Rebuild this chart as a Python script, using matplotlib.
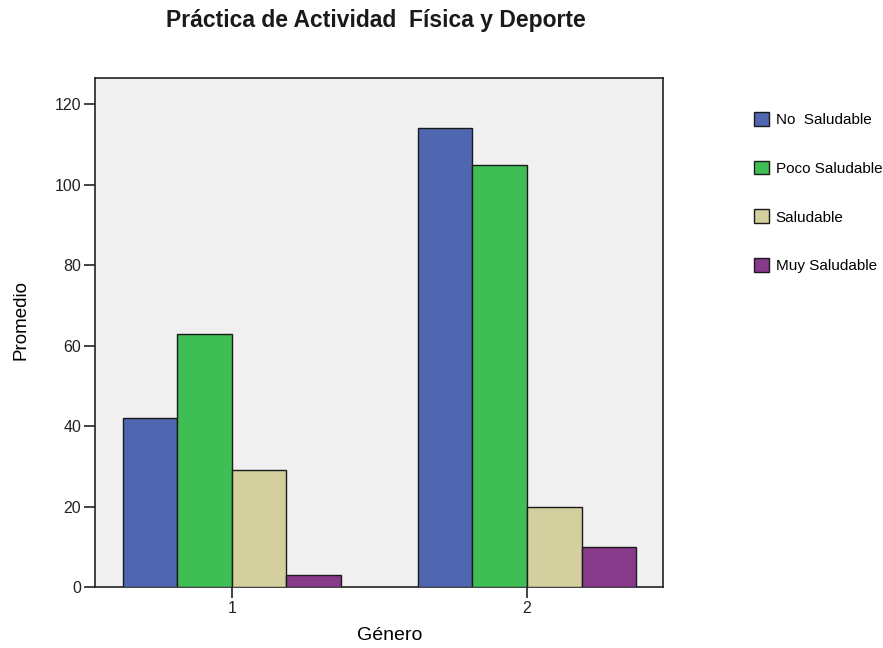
import matplotlib
matplotlib.use("Agg")
import matplotlib.pyplot as plt
import numpy as np

plt.rcParams['font.family'] = ['Liberation Sans', 'DejaVu Sans']

groups = ["1", "2"]
categories = ["No  Saludable", "Poco Saludable", "Saludable", "Muy Saludable"]
values = {
    "No  Saludable": [42, 114],
    "Poco Saludable": [63, 105],
    "Saludable": [29, 20],
    "Muy Saludable": [3, 10],
}
colors = ["#4F66B0", "#40BE56", "#D3CF9F", "#873A8A"]

fig = plt.figure(figsize=(8.83, 6.48), dpi=100)
ax = fig.add_axes([95 / 883, 1 - 587 / 648, (663 - 95) / 883, (587 - 78) / 648])
ax.set_facecolor("#F0F0F0")

x = np.arange(1, len(groups) + 1)
w = 0.185
for i, cat in enumerate(categories):
    ax.bar(x + (i - 1.5) * w, values[cat], width=w, color=colors[i],
           edgecolor="#1a1a1a", linewidth=1.0, label=cat, zorder=3)

ax.set_xlim(0.536, 2.461)
ax.set_ylim(0, 126.5)
ax.set_xticks(x)
ax.set_xticklabels(groups)
ax.set_yticks(np.arange(0, 121, 20))
ax.tick_params(axis="both", direction="out", length=8, width=1.2, labelsize=11.5,
               colors="#222222", pad=2)
for s in ax.spines.values():
    s.set_color("#222222")
    s.set_linewidth(1.2)

ax.set_xlabel("Género", fontsize=14)
ax.set_ylabel("Promedio", fontsize=13.5)
ax.xaxis.set_label_coords((390 - 95) / (663 - 95), -(635 - 587) / (587 - 78), transform=ax.transAxes)
ax.yaxis.set_label_coords(-(95 - 21) / (663 - 95), (587 - 320) / (587 - 78), transform=ax.transAxes)
for lab in (ax.xaxis.label, ax.yaxis.label):
    lab.set_va("center")
fig.text(376 / 883, 1 - 20 / 648, "Práctica de Actividad  Física y Deporte",
         fontsize=16.5, fontweight="bold", ha="center", va="center", color="#1a1a1a")

leg = ax.legend(loc="upper left", bbox_to_anchor=(748 / 883, 1 - 106 / 648),
                bbox_transform=fig.transFigure, frameon=False, fontsize=11,
                handlelength=1.0, handleheight=1.0, handletextpad=0.4,
                labelspacing=2.2, borderaxespad=0)
for h in leg.legend_handles:
    h.set_edgecolor("#1a1a1a")

fig.savefig("out.png", dpi=100)
